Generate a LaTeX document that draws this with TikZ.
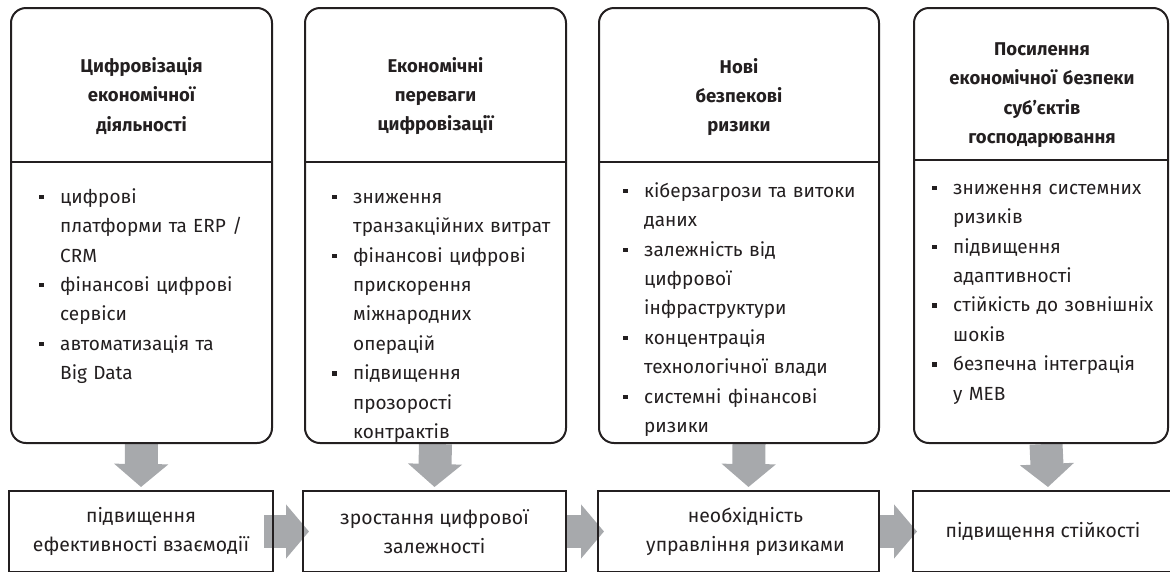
\documentclass[tikz,border=0pt]{standalone}
\usepackage{fontspec}
\setmainfont{Fira Sans}
\usetikzlibrary{arrows.meta}

\definecolor{InkBlack}{HTML}{231F20}
\definecolor{ArrowGrey}{HTML}{A7A9AC}

\pgfdeclarelayer{background}
\pgfsetlayers{background,main}

% bullet of the lists
\newcommand{\blt}{\makebox[21pt][l]{\rule[4pt]{5pt}{4.5pt}}}
\newcommand{\li}[1]{\hangindent=21pt\hangafter=1\noindent\rule{0pt}{15pt}\blt #1\par}

\begin{document}
\begin{tikzpicture}[x=1pt, y=-1pt,
    topbox/.style={draw=InkBlack, line width=2pt, rounded corners=15pt, minimum width=#1, minimum height=435pt, inner sep=0pt},
    lowbox/.style={draw=InkBlack, line width=2pt, minimum width=#1, minimum height=81pt, inner sep=0pt},
    headtext/.style={text=InkBlack, font=\bfseries\fontsize{18.5}{29.3}\selectfont, text width=250pt, align=center, inner sep=0pt},
    listtext/.style={text=InkBlack, font=\fontsize{19}{29.4}\selectfont, text width=240pt, align=left, anchor=north west, inner sep=0pt},
    lowtext/.style={text=InkBlack, font=\fontsize{19.4}{28.5}\selectfont, align=center},
    greyarrow/.style={draw=ArrowGrey, line width=33pt, -{Triangle[width=53pt,length=23pt]}}]
        \useasboundingbox (0,0) rectangle (1170,571);

        \node[topbox=261pt] (t1) at (141.5,225.5) {};
        \node[topbox=261pt] (t2) at (435.5,225.5) {};
        \node[topbox=280pt] (t3) at (739,225.5) {};
        \node[topbox=254pt] (t4) at (1041,225.5) {};

        \draw[InkBlack, line width=2pt] (t1.west |- 0,162) -- (t1.east |- 0,162);
        \draw[InkBlack, line width=2pt] (t2.west |- 0,162) -- (t2.east |- 0,162);
        \draw[InkBlack, line width=2pt] (t3.west |- 0,162) -- (t3.east |- 0,162);
        \draw[InkBlack, line width=2pt] (t4.west |- 0,160) -- (t4.east |- 0,160);

        \node[headtext] (h1) at (141.5,96) {Цифровізація\\економічної\\діяльності};
        \node[headtext] (h2) at (435.5,96) {Економічні\\переваги\\цифровізації};
        \node[headtext] (h3) at (739,97) {Нові\\безпекові\\ризики};
        \node[headtext] (h4) at (1042,95) {Посилення\\економічної безпеки\\суб’єктів\\господарювання};

        \node[listtext] (l1) at (39,188) {\li{цифрові\newline платформи та ERP /\newline CRM}
            \li{фінансові цифрові\newline сервіси}
            \li{автоматизація та\newline Big Data}};
        \node[listtext] (l2) at (332,188) {\li{зниження\newline транзакційних витрат}
            \li{фінансові цифрові\newline прискорення\newline міжнародних\newline операцій}
            \li{підвищення\newline прозорості\newline контрактів}};
        \node[listtext] (l3) at (623,182) {\li{кіберзагрози та витоки\newline даних}
            \li{залежність від\newline цифрової\newline інфраструктури}
            \li{концентрація\newline технологічної влади}
            \li{системні фінансові\newline ризики}};
        \node[listtext] (l4) at (932,179) {\li{зниження системних\newline ризиків}
            \li{підвищення\newline адаптивності}
            \li{стійкість до зовнішніх\newline шоків}
            \li{безпечна інтеграція\newline у МЕВ}};

        \node[lowbox=264pt] (b1) at (141,531.5) {};
        \node[lowbox=263pt] (b2) at (434.5,531.5) {};
        \node[lowbox=281pt] (b3) at (738.5,531.5) {};
        \node[lowbox=260pt] (b4) at (1043,531.5) {};

        \node[lowtext] (s1) at (b1) {підвищення\\ефективності взаємодії};
        \node[lowtext] (s2) at (b2) {зростання цифрової\\залежності};
        \node[lowtext] (s3) at ([xshift=7pt]b3) {необхідність\\управління ризиками};
        \node[lowtext] (s4) at (b4) {підвищення стійкості};

        \begin{pgfonlayer}{background}
            \draw[greyarrow] (t1.south) -- ([yshift=3pt]b1.north);
            \draw[greyarrow] (t2.south) -- ([yshift=3pt]b2.north);
            \draw[greyarrow] ([xshift=10pt]t3.south) -- ([xshift=10pt,yshift=3pt]b3.north);
            \draw[greyarrow] ([xshift=5pt]t4.south) -- ([xshift=5pt,yshift=3pt]b4.north);

            \draw[greyarrow] ([xshift=-10pt]b1.east) -- ([xshift=7pt]b2.west);
            \draw[greyarrow] (b2.east) -- ([xshift=7pt]b3.west);
            \draw[greyarrow] (b3.east) -- ([xshift=5pt]b4.west);
        \end{pgfonlayer}
    \end{tikzpicture}
\end{document}
